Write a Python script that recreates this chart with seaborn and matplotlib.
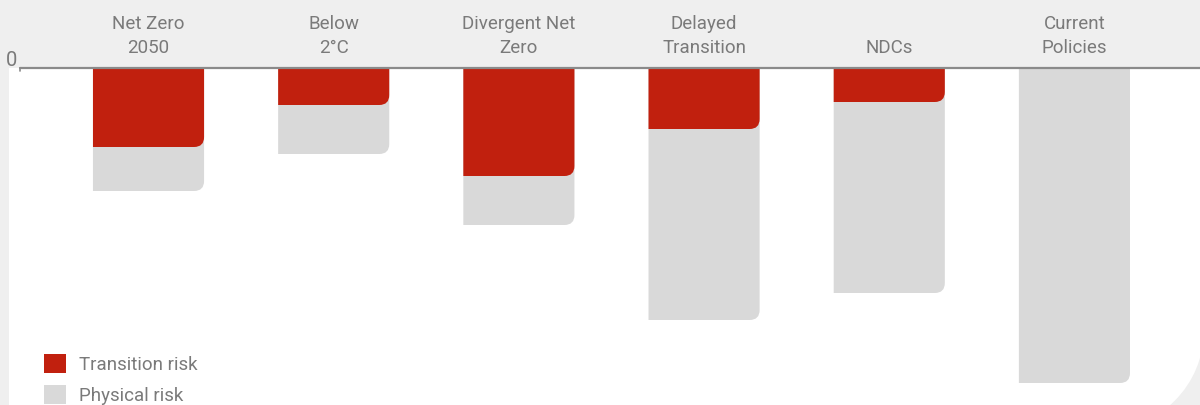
import numpy as np
import pandas as pd
import matplotlib
matplotlib.use("Agg")
import matplotlib.pyplot as plt
from matplotlib.patches import Rectangle, Circle, PathPatch, Patch
from matplotlib.path import Path
import seaborn as sns

# ── data (arbitrary units, drawn downward) ──
scenarios = ["Net Zero\n2050", "Below\n2°C", "Divergent Net\nZero",
             "Delayed\nTransition", "NDCs", "Current\nPolicies"]
transition_risk = [79, 37, 108, 61, 34, 0]
physical_risk = [44, 49, 49, 191, 191, 315]

RED = "#c1200e"
GREY = "#d9d9d9"
BG = "#efefef"
TXT = "#7a7a7a"
FS = 13.5

sns.set_theme(style="white")
plt.rcParams["font.family"] = ["Roboto", "DejaVu Sans"]

df = pd.DataFrame({
    "scenario": scenarios,
    "transition": transition_risk,
    "physical": physical_risk,
})
df["total"] = df["transition"] + df["physical"]

W, H = 1200, 405
fig = plt.figure(figsize=(W / 100, H / 100), dpi=100)
fig.patch.set_facecolor(BG)


def px(x, y_top):
    # pixel position measured from the top -> display coords
    return x, H - y_top


# white panel with big rounded bottom-right corner
rr = 100
panel = [
    Rectangle(px(8.5, 330), 1300, 330 - 68),
    Rectangle(px(8.5, 500), 1104 - 8.5, 500 - 68),
    Circle(px(1104, 330), rr),
]
for p in panel:
    p.set_transform(None)
    p.set_facecolor("white")
    p.set_edgecolor("none")
    p.set_zorder(-5)
    fig.patches.append(p)

# axes: left edge 20px, top at the zero line (68px)
ax = fig.add_axes([20 / W, 0, 1180 / W, (H - 68) / H])
ax.set_facecolor("none")

sns.barplot(data=df, x="scenario", y="total", color=GREY, width=0.6,
            saturation=1, ax=ax, zorder=2)
sns.barplot(data=df, x="scenario", y="transition", color=RED, width=0.6,
            saturation=1, ax=ax, zorder=3)

ax.set_xlim(-0.694, 5.678)
ax.set_ylim(337, 0)

# round only the bottom-right corner of each bar
x_ppu = 1180 / (ax.get_xlim()[1] - ax.get_xlim()[0])
y_ppu = 337 / 337
rad = 10
for bar in list(ax.patches):
    x, y = bar.get_x(), bar.get_y()
    w, h = bar.get_width(), bar.get_height()
    if h <= 0:
        bar.remove()
        continue
    rx, ry = rad / x_ppu, rad / y_ppu
    top, bot = y, y + h
    verts = [(x, top), (x + w, top), (x + w, bot - ry),
             (x + w, bot), (x + w - rx, bot), (x, bot), (x, top)]
    codes = [Path.MOVETO, Path.LINETO, Path.LINETO,
             Path.CURVE3, Path.CURVE3, Path.LINETO, Path.CLOSEPOLY]
    pp = PathPatch(Path(verts, codes), facecolor=bar.get_facecolor(),
                   edgecolor="none", zorder=bar.get_zorder())
    bar.remove()
    ax.add_patch(pp)

# zero line + small tick + label
ax.axhline(0, color="#8a8a8a", lw=1.6, zorder=5, clip_on=False)
ax.plot([0.0, 0.0], [0, 3], transform=ax.get_yaxis_transform(which="grid"),
        color="#8a8a8a", lw=1.2, clip_on=False, zorder=5)
ax.annotate("0", xy=(0, 1), xycoords="axes fraction", xytext=(-2, 1.2),
            textcoords="offset points", ha="right", va="baseline",
            fontsize=FS + 1, color=TXT)

# scenario labels in the header band
ax.xaxis.tick_top()
ax.set_xticks(range(len(scenarios)))
ax.set_xticklabels(scenarios, fontsize=FS, color=TXT, linespacing=1.4)
ax.tick_params(axis="x", length=0, pad=8)
ax.set_yticks([])
ax.set_xlabel("")
ax.set_ylabel("")
for s in ax.spines.values():
    s.set_visible(False)

# legend bottom-left (partly cut off by the frame edge)
handles = [Patch(facecolor=RED, edgecolor="none", label="Transition risk"),
           Patch(facecolor=GREY, edgecolor="none", label="Physical risk")]
fig.legend(handles=handles, loc="upper left",
           bbox_to_anchor=(44 / W, (H - 354) / H),
           frameon=False, fontsize=FS, labelcolor=TXT,
           handlelength=1.15, handleheight=1.15, handletextpad=0.7,
           labelspacing=0.62, borderpad=0, borderaxespad=0)

fig.savefig("out.png", dpi=100, facecolor=BG)
